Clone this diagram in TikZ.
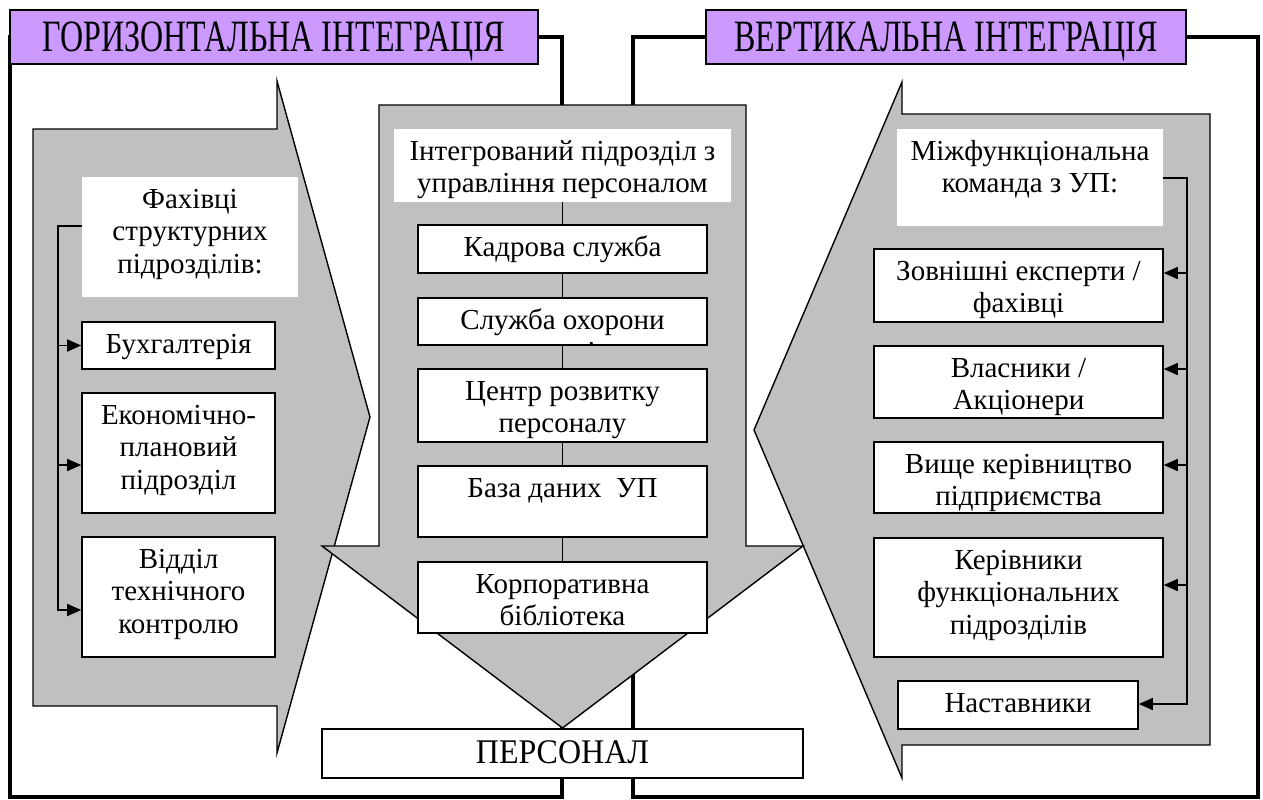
\documentclass[tikz,border=0pt]{standalone}
\usepackage{graphicx}
\usepackage{fontspec}
\setmainfont{Liberation Serif}
\usetikzlibrary{arrows.meta}
\definecolor{headviolet}{HTML}{CC99FF}
\definecolor{arrowgray}{HTML}{C0C0C0}
% lines of a box label, first baseline taken as the label's baseline
\newcommand\stacked[1]{\begin{tabular}[t]{@{}c@{}}#1\end{tabular}}
\newcommand\bodyfont{\fontsize{29}{32.5}\selectfont}
% tall, narrow lettering of the two headers
\newcommand\tallcaps[1]{\scalebox{1}[1.4]{#1}}
\begin{document}
\begin{tikzpicture}[x=1pt,y=-1pt,
  frame/.style={line width=4.5pt, line join=miter},
  header/.style={draw, line width=1.5pt, fill=headviolet, inner sep=0pt,
    font=\fontsize{32}{36}\selectfont, text height=42pt, text depth=12pt},
  grayarrow/.style={draw, line width=1.4pt, fill=arrowgray, line join=miter},
  unit/.style={draw, line width=1.6pt, fill=white, inner sep=0pt,
    font=\bodyfont, text height=31pt},
  caption/.style={fill=white, inner sep=0pt, font=\bodyfont, text height=31pt},
  link/.style={line width=1.5pt},
  feed/.style={link, -{Triangle[length=14pt,width=12pt]}},
]
\useasboundingbox (0,0) rectangle (1263,800);

% thick frames of the two integration areas
\draw[frame] (10,37) rectangle (562,797);
\draw[frame] (633,37) rectangle (1258,797);

% headers
\node[header, minimum width=528pt] (hleft) at (274,37) {\tallcaps{ГОРИЗОНТАЛЬНА ІНТЕГРАЦІЯ}};
\node[header, minimum width=480pt] (hright) at (946,37) {\tallcaps{ВЕРТИКАЛЬНА ІНТЕГРАЦІЯ}};

% block arrows
\draw[grayarrow] (33,129) -- (277,129) -- (277,81) -- (370,417) -- (277,753)
  -- (277,706) -- (33,706) -- cycle;
\draw[grayarrow] (1210,114) -- (902,114) -- (902,82) -- (754,430) -- (902,778)
  -- (902,745) -- (1210,745) -- cycle;
\draw[grayarrow] (379,105) -- (746,105) -- (746,546) -- (803,546) -- (562.5,728)
  -- (322,546) -- (379,546) -- cycle;

% horizontal integration
\node[caption, minimum width=216pt, text depth=89pt] (fach) at (190,237)
  {\stacked{Фахівці\\структурних\\підрозділів:}};
\node[unit, minimum width=193pt, text depth=16pt] (buh) at (178.5,345.5) {Бухгалтерія};
\node[unit, minimum width=193pt, text depth=89pt] (ekon) at (178.5,453)
  {\stacked{Економічно-\\плановий\\підрозділ}};
\node[unit, minimum width=193pt, text depth=89pt] (vtk) at (178.5,597)
  {\stacked{Відділ\\технічного\\контролю}};

\coordinate (lb0) at (58,226);
\coordinate (lb1) at (58,345.5);
\coordinate (lb2) at (58,465);
\coordinate (lb3) at (58,610);
\draw[feed] (fach.west |- lb0) -- (lb0) -- (lb3) -- (vtk.west |- lb3);
\draw[feed] (lb1) -- (buh.west |- lb1);
\draw[feed] (lb2) -- (ekon.west |- lb2);

% integrated HR unit
\node[caption, minimum width=337pt, text depth=42pt] (title) at (562.5,165.5)
  {\stacked{Інтегрований підрозділ з\\управління персоналом}};
\node[unit, minimum width=289pt, text depth=17pt] (kadr) at (562.5,249) {Кадрова служба};
\node[unit, minimum width=289pt, text depth=16pt] (sluzh) at (562.5,321.5) {};
\begin{scope}
  \clip ([shift={(0.8pt,0.8pt)}]sluzh.south west) rectangle ([shift={(-0.8pt,-0.8pt)}]sluzh.north east);
  \node[inner sep=0pt, font=\bodyfont, text height=31pt, text depth=16pt]
    (sluzhtext) at (sluzh.center) {\stacked{Служба охорони\\праці}};
\end{scope}
\node[unit, minimum width=289pt, text depth=42pt] (centr) at (562.5,405.5)
  {\stacked{Центр розвитку\\персоналу}};
\node[unit, minimum width=289pt, text depth=40pt] (baza) at (562.5,501.5) {База даних\ \ УП};
\node[unit, minimum width=289pt, text depth=40pt] (korp) at (562.5,597.5)
  {\stacked{Корпоративна\\бібліотека}};
\draw[link] (title) -- (kadr);
\draw[link] (kadr) -- (sluzh);
\draw[link] (sluzh) -- (centr);
\draw[link] (centr) -- (baza);
\draw[link] (baza) -- (korp);

% vertical integration
\node[caption, minimum width=266pt, text depth=66pt] (mizh) at (1030,177.5)
  {\stacked{Міжфункціональна\\команда з УП:}};
\node[unit, minimum width=289pt, text depth=42pt] (zovn) at (1018.5,285.5)
  {\stacked{Зовнішні експерти /\\фахівці}};
\node[unit, minimum width=289pt, text depth=41pt] (vlas) at (1018.5,382)
  {\stacked{Власники /\\Акціонери}};
\node[unit, minimum width=289pt, text depth=40pt] (vyshe) at (1018.5,477.5)
  {\stacked{Вище керівництво\\підприємства}};
\node[unit, minimum width=289pt, text depth=88pt] (kerivn) at (1018.5,597.5)
  {\stacked{Керівники\\функціональних\\підрозділів}};
\node[unit, minimum width=240pt, text depth=17pt] (nast) at (1018,705) {Наставники};

\coordinate (rb0) at (1187,178);
\coordinate (rb1) at (1187,273);
\coordinate (rb2) at (1187,369);
\coordinate (rb3) at (1187,465);
\coordinate (rb4) at (1187,585);
\coordinate (rb5) at (1187,704);
\draw[feed] (mizh.east |- rb0) -- (rb0) -- (rb5) -- (nast.east |- rb5);
\draw[feed] (rb1) -- (zovn.east |- rb1);
\draw[feed] (rb2) -- (vlas.east |- rb2);
\draw[feed] (rb3) -- (vyshe.east |- rb3);
\draw[feed] (rb4) -- (kerivn.east |- rb4);

% result
\node[unit, minimum width=481pt, font=\fontsize{32}{36}\selectfont,
  text height=34pt, text depth=15pt] (pers) at (562.5,753.5) {\scalebox{1}[1.08]{ПЕРСОНАЛ}};
\end{tikzpicture}
\end{document}
